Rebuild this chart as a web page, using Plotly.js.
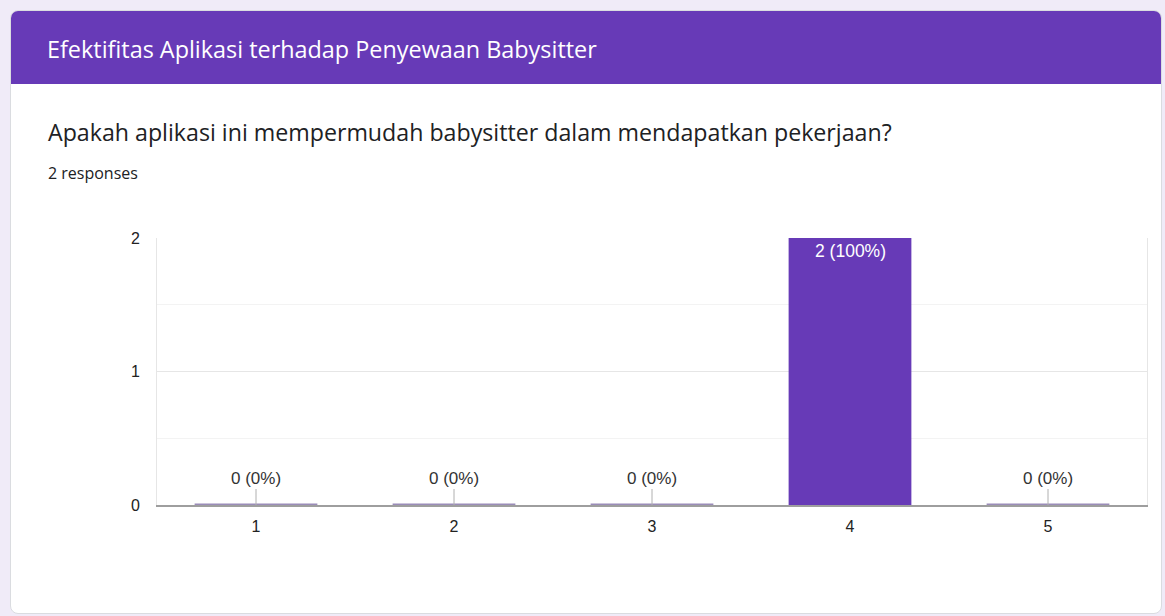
<!DOCTYPE html>
<html>
<head>
<meta charset="utf-8">
<script src="https://cdn.plot.ly/plotly-3.0.1.min.js"></script>
<style>
  html, body { margin:0; padding:0; width:1165px; height:616px; overflow:hidden; background:#f0ebf8; }
  #card { position:absolute; left:10px; top:10px; width:1152px; height:604px; background:#fff;
          border:1px solid #dadce0; border-radius:8px; box-sizing:border-box; overflow:hidden; }
  #hdr { position:absolute; left:0; top:0; right:0; height:73px; background:#673ab7; }
  #hdr span { position:absolute; left:36px; top:23px; line-height:30px; color:#fff; font-size:23.4px; font-family:"Open Sans", Roboto, sans-serif; white-space:nowrap; }
  #q { position:absolute; left:37px; top:106px; line-height:30px; color:#202124; font-size:23.2px; font-family:"Open Sans", Roboto, sans-serif; white-space:nowrap; }
  #r { position:absolute; left:37px; top:152px; line-height:20px; color:#202124; font-size:16px; font-family:"Open Sans", Roboto, sans-serif; white-space:nowrap; }
  #chart { position:absolute; left:0; top:0; width:1165px; height:616px; }
</style>
</head>
<body>
<div id="card">
  <div id="hdr"><span>Efektifitas Aplikasi terhadap Penyewaan Babysitter</span></div>
  <div id="q">Apakah aplikasi ini mempermudah babysitter dalam mendapatkan pekerjaan?</div>
  <div id="r">2 responses</div>
</div>
<div id="chart"></div>
<script>
const categories = ["1", "2", "3", "4", "5"];
const counts = [0, 0, 0, 2, 0];
const total = 2;
const labels = counts.map(c => c + " (" + Math.round(c / total * 100) + "%)");

const purple = "#673ab7";
const fontFam = "Liberation Sans, Arial, sans-serif";

const mainBars = {
  type: "bar", x: categories, y: counts,
  marker: { color: purple }, hoverinfo: "skip", showlegend: false
};
// thin strip marking zero-count bars along the baseline
const zeroStrips = {
  type: "bar", x: categories, y: counts.map(c => c === 0 ? 0.012 : 0),
  marker: { color: "#9a8cb8" }, hoverinfo: "skip", showlegend: false
};

const annotations = categories.map((cat, i) => {
  if (counts[i] === 0) {
    return {
      x: i, y: counts[i], xref: "x", yref: "y", text: labels[i],
      showarrow: true, arrowhead: 0, arrowwidth: 1, arrowcolor: "#b0b0b0",
      ax: 0, ay: -27, standoff: 0,
      font: { family: fontFam, size: 17, color: "#333" }
    };
  }
  return {
    x: i, y: counts[i], xref: "x", yref: "y", text: labels[i],
    showarrow: false, yanchor: "top", yshift: -1,
    font: { family: fontFam, size: 17.5, color: "#ffffff" }
  };
});

const layout = {
  width: 1165, height: 616,
  margin: { l: 157, r: 18, t: 238, b: 111 },
  paper_bgcolor: "rgba(0,0,0,0)", plot_bgcolor: "rgba(0,0,0,0)",
  barmode: "overlay", bargap: 0.38,
  font: { family: fontFam, size: 16, color: "#222" },
  xaxis: {
    type: "category", showgrid: false, zeroline: false,
    showline: true, linecolor: "#9e9e9e", linewidth: 2,
    ticks: "", ticklabelstandoff: 6, tickfont: { size: 16, color: "#222" },
    fixedrange: true
  },
  yaxis: {
    range: [0, 2], dtick: 1, tick0: 0, zeroline: false,
    showgrid: true, gridcolor: "#e6e6e6", gridwidth: 1,
    minor: { dtick: 0.5, showgrid: true, gridcolor: "#f3f3f3", gridwidth: 1 },
    showline: true, linecolor: "#e6e6e6", linewidth: 1, mirror: true,
    ticks: "", ticklabelstandoff: 13, tickfont: { size: 16, color: "#222" },
    fixedrange: true
  },
  annotations: annotations
};

Plotly.newPlot("chart", [mainBars, zeroStrips], layout, { displayModeBar: false, staticPlot: true });
</script>
</body>
</html>
